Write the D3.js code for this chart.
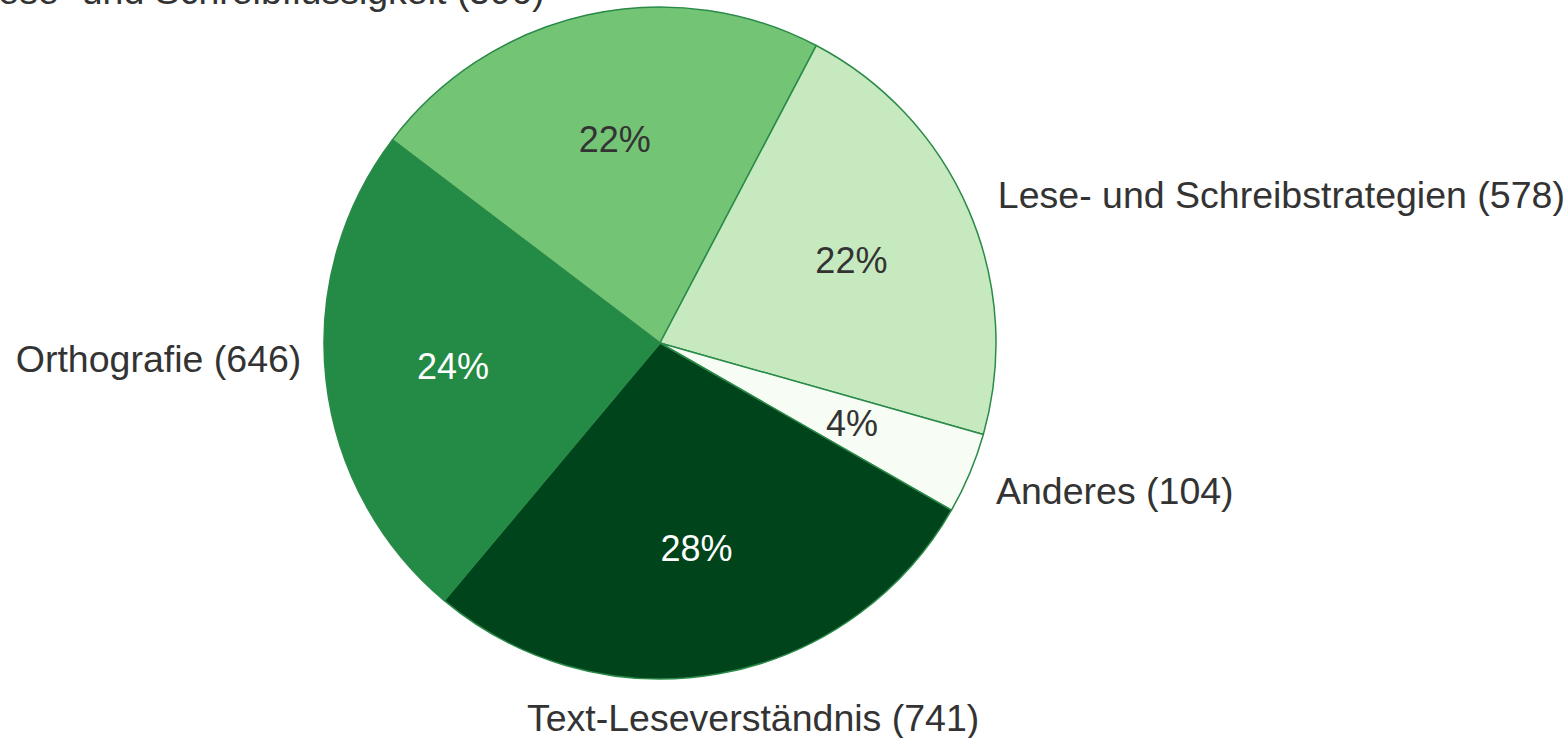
<!DOCTYPE html>
<html>
<head>
<meta charset="utf-8">
<script src="https://cdn.jsdelivr.net/npm/d3@7"></script>
<style>
  body { margin: 0; background: #fff; }
  svg { display: block; }
  text { font-family: "Liberation Sans", Arial, sans-serif; }
</style>
</head>
<body>
<svg id="chart" width="1567" height="738"></svg>
<script>
// Kategorien und Werte (Anzahl Nennungen)
const categories = ["Lese- und Schreibflüssigkeit", "Lese- und Schreibstrategien", "Anderes", "Text-Leseverständnis", "Orthografie"];
const values = [596, 578, 104, 741, 646];
const colors = ["#74c476", "#c7e9c0", "#f7fcf5", "#00441b", "#238b45"];
const pctTextColors = ["#333", "#333", "#333", "#fff", "#fff"];

// kleine Verschiebungen der Aussenbeschriftung (Layout)
const labelNudge = [[-35, 10], [-3, -2], [-6, 4], [28, 10], [10, -26]];

const svg = d3.select("#chart");
const cx = 660, cy = 343, radius = 336;

const data = categories.map((c, i) => ({ name: c, value: values[i], i: i }));
const total = d3.sum(values);

const pie = d3.pie()
    .sort(null)
    .value(d => d.value)
    .startAngle(-52.8 * Math.PI / 180)
    .endAngle((360 - 52.8) * Math.PI / 180);

const arcs = pie(data);

const arc = d3.arc().innerRadius(0).outerRadius(radius);
const labelArc = d3.arc().innerRadius(radius * 0.62).outerRadius(radius * 0.62);
const outerArc = d3.arc().innerRadius(radius + 35).outerRadius(radius + 35);

const g = svg.append("g").attr("transform", "translate(" + cx + "," + cy + ")");

g.selectAll("path.slice")
    .data(arcs)
    .enter().append("path")
    .attr("class", "slice")
    .attr("d", arc)
    .attr("fill", d => colors[d.data.i])
    .attr("stroke", "#2a8a48")
    .attr("stroke-width", 1.5)
    .attr("stroke-linejoin", "round");

// Prozentwerte im Kreis
g.selectAll("text.pct")
    .data(arcs)
    .enter().append("text")
    .attr("class", "pct")
    .attr("transform", d => "translate(" + labelArc.centroid(d) + ")")
    .attr("text-anchor", "middle")
    .attr("dominant-baseline", "central")
    .attr("font-size", 36)
    .attr("fill", d => pctTextColors[d.data.i])
    .text(d => Math.round(d.data.value / total * 100) + "%");

// Beschriftung aussen
g.selectAll("text.lbl")
    .data(arcs)
    .enter().append("text")
    .attr("class", "lbl")
    .attr("x", d => outerArc.centroid(d)[0] + labelNudge[d.data.i][0])
    .attr("y", d => outerArc.centroid(d)[1] + labelNudge[d.data.i][1])
    .attr("text-anchor", d => {
        const mid = (d.startAngle + d.endAngle) / 2;
        const s = Math.sin(mid);
        if (Math.abs(s) < 0.2) return "middle";
        return s > 0 ? "start" : "end";
    })
    .attr("dominant-baseline", "central")
    .attr("font-size", 37.5)
    .attr("fill", "#333")
    .text(d => d.data.name + " (" + d.data.value + ")");
</script>
</body>
</html>
